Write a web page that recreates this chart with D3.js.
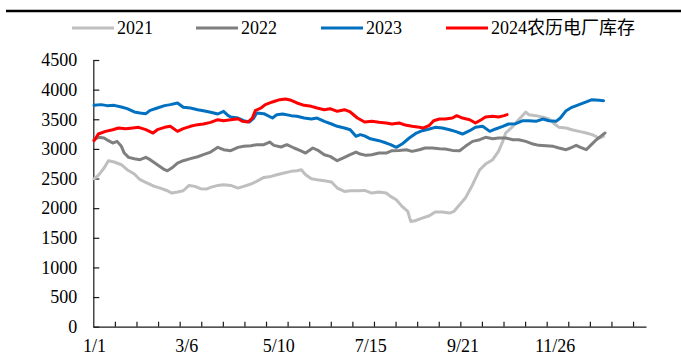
<!DOCTYPE html>
<html>
<head>
<meta charset="utf-8">
<script src="https://cdn.jsdelivr.net/npm/d3@7"></script>
<style>
  html, body { margin: 0; padding: 0; background: #fff; }
  svg { display: block; }
  text { font-family: "Liberation Serif", "Noto Sans CJK SC", serif; fill: #000; }
</style>
</head>
<body>
<svg id="chart" width="681" height="356"></svg>
<script>
// Category axis: one slot per lunar day, ticks every 15 days, labels every 64 days
const dayCount = 384;
const tickEvery = 15;
const labelEvery = 64;
const xLabels = ["1/1", "3/6", "5/10", "7/15", "9/21", "11/26"];
const yTicks = [0, 500, 1000, 1500, 2000, 2500, 3000, 3500, 4000, 4500];

const seriesNames = ["2021", "2022", "2023", "2024农历电厂库存"];
const seriesColors = ["#BFBFBF", "#7F7F7F", "#0070C0", "#FF0000"];

// [lunar day index, inventory]
const inv2021 = [[0,2497],[3,2553],[7,2677],[10,2801],[14,2779],[19,2733],[23,2649],[28,2576],[32,2480],[37,2424],[42,2368],[46,2339],[51,2294],[54,2255],[58,2272],[62,2294],[66,2384],[70,2368],[74,2328],[78,2322],[81,2351],[86,2384],[90,2396],[95,2384],[100,2339],[104,2368],[109,2407],[113,2452],[118,2519],[123,2536],[127,2564],[132,2593],[137,2621],[141,2632],[144,2649],[147,2564],[151,2497],[155,2480],[160,2463],[165,2441],[169,2339],[174,2283],[178,2294],[183,2294],[188,2300],[193,2255],[198,2272],[203,2255],[206,2199],[210,2142],[214,2030],[218,1945],[220,1776],[223,1788],[228,1833],[233,1872],[237,1934],[242,1934],[247,1917],[250,1945],[254,2058],[258,2170],[263,2396],[268,2649],[272,2744],[277,2818],[281,2958],[284,3127],[286,3268],[291,3381],[295,3493],[300,3623],[302,3578],[307,3561],[312,3533],[316,3505],[320,3420],[323,3364],[328,3353],[332,3324],[337,3296],[342,3268],[346,3240],[351,3184],[354,3212]];
const inv2022 = [[0,3155],[3,3195],[7,3184],[10,3139],[13,3099],[16,3127],[19,3043],[21,2930],[24,2857],[28,2835],[32,2818],[36,2857],[39,2818],[44,2733],[49,2649],[51,2632],[54,2677],[58,2761],[62,2801],[67,2835],[72,2868],[76,2902],[81,2947],[86,3026],[90,2986],[95,2970],[100,3026],[104,3043],[109,3054],[113,3071],[118,3071],[122,3116],[125,3060],[130,3032],[134,3071],[139,3015],[143,2975],[147,2930],[152,3015],[156,2970],[160,2902],[164,2874],[169,2801],[174,2857],[178,2902],[182,2947],[185,2913],[189,2891],[193,2902],[198,2930],[203,2930],[207,2970],[212,2975],[217,2986],[221,2958],[226,2986],[230,3015],[235,3015],[240,3004],[244,2998],[249,2975],[254,2970],[258,3043],[263,3127],[268,3155],[272,3195],[277,3172],[281,3184],[286,3184],[291,3155],[295,3155],[300,3127],[305,3082],[309,3060],[314,3054],[319,3043],[323,3015],[328,2986],[331,3015],[335,3060],[338,3026],[342,2986],[345,3060],[349,3155],[352,3212],[355,3268]];
const inv2023 = [[0,3735],[5,3747],[9,3730],[14,3735],[19,3707],[23,3679],[28,3623],[32,3606],[36,3595],[39,3651],[44,3690],[49,3730],[53,3747],[58,3775],[62,3702],[67,3690],[72,3662],[76,3645],[81,3617],[86,3589],[90,3634],[93,3566],[95,3538],[100,3521],[104,3476],[108,3454],[111,3521],[113,3606],[118,3595],[124,3521],[127,3578],[131,3589],[137,3561],[141,3550],[146,3521],[151,3505],[155,3521],[160,3465],[165,3420],[169,3381],[174,3353],[178,3324],[182,3212],[185,3240],[188,3220],[192,3170],[198,3139],[203,3099],[206,3071],[210,3026],[214,3082],[219,3184],[224,3268],[228,3307],[233,3336],[237,3364],[242,3353],[247,3324],[251,3296],[256,3251],[261,3307],[265,3364],[270,3381],[275,3296],[279,3336],[284,3381],[288,3420],[293,3426],[298,3476],[302,3476],[307,3465],[312,3505],[316,3476],[321,3465],[324,3521],[328,3645],[332,3702],[337,3747],[342,3792],[346,3831],[351,3820],[354,3814]];
const inv2024 = [[0,3139],[3,3251],[8,3296],[13,3324],[17,3353],[22,3341],[27,3353],[31,3364],[36,3324],[41,3268],[44,3324],[49,3364],[53,3381],[58,3296],[62,3341],[67,3381],[72,3409],[76,3420],[81,3448],[86,3493],[90,3476],[95,3493],[100,3510],[103,3465],[107,3454],[110,3521],[112,3645],[116,3690],[119,3747],[124,3792],[129,3831],[133,3842],[137,3820],[141,3775],[146,3735],[151,3718],[155,3690],[160,3662],[164,3679],[169,3634],[174,3662],[178,3623],[183,3521],[188,3454],[193,3465],[198,3448],[203,3437],[207,3420],[212,3437],[217,3398],[221,3381],[226,3364],[229,3353],[233,3398],[236,3476],[240,3505],[244,3505],[249,3521],[252,3561],[256,3521],[261,3493],[265,3437],[269,3493],[272,3538],[277,3550],[281,3538],[285,3561],[287,3578]];

const seriesData = [inv2021, inv2022, inv2023, inv2024];

const svg = d3.select("#chart");
const plot = { left: 93.3, right: 646, top: 60, bottom: 326.7 };

const x = d3.scaleLinear().domain([0, dayCount]).range([plot.left, plot.right]);
const y = d3.scaleLinear().domain([0, 4500]).range([plot.bottom, plot.top]);

// rule across the top of the figure
svg.append("line")
  .attr("x1", 6).attr("x2", 681).attr("y1", 11).attr("y2", 11)
  .attr("stroke", "#000").attr("stroke-width", 2.5);

// y axis, ticks pointing into the plot
const yAxis = svg.append("g")
  .attr("transform", `translate(${plot.left},0)`)
  .call(d3.axisLeft(y).tickValues(yTicks).tickSizeInner(-6).tickSizeOuter(0).tickPadding(16).tickFormat(d3.format("d")));
yAxis.selectAll("text").style("font-size", "18px").style("font-family", "Liberation Serif, serif");

// x axis line with inner ticks every 15 days
const tickVals = d3.range(tickEvery, dayCount, tickEvery);
svg.append("g")
  .attr("transform", `translate(0,${plot.bottom})`)
  .call(d3.axisBottom(x).tickValues(tickVals).tickSizeInner(-5).tickSizeOuter(0).tickFormat(""));

// x labels centred on their day slot
const labelVals = xLabels.map((_, i) => i * labelEvery + 0.5);
const xLab = svg.append("g")
  .attr("transform", `translate(0,${plot.bottom})`)
  .call(d3.axisBottom(x).tickValues(labelVals).tickSize(0).tickPadding(12.5)
    .tickFormat((d, i) => xLabels[i]));
xLab.select(".domain").remove();
xLab.selectAll("text").style("font-size", "18px").style("font-family", "Liberation Serif, serif");

svg.selectAll(".domain, .tick line").attr("stroke", "#1a1a1a").attr("stroke-width", 1.2);

// series lines
const line = d3.line()
  .x(d => x(d[0] + 0.5))
  .y(d => y(d[1]));

svg.append("g").selectAll("path")
  .data(seriesData)
  .join("path")
  .attr("d", line)
  .attr("fill", "none")
  .attr("stroke", (d, i) => seriesColors[i])
  .attr("stroke-width", 3)
  .attr("stroke-linejoin", "round")
  .attr("stroke-linecap", "round");

// legend
const legendX = [72, 196, 321, 446];
const legend = svg.append("g").selectAll("g")
  .data(seriesNames)
  .join("g")
  .attr("transform", (d, i) => `translate(${legendX[i]},28)`);
legend.append("line")
  .attr("x1", 0).attr("x2", 42).attr("y1", 0).attr("y2", 0)
  .attr("stroke", (d, i) => seriesColors[i]).attr("stroke-width", 3);
legend.append("text")
  .attr("x", 45).attr("y", 0).attr("dy", "0.35em")
  .style("font-size", "18px")
  .text(d => d);
</script>
</body>
</html>
